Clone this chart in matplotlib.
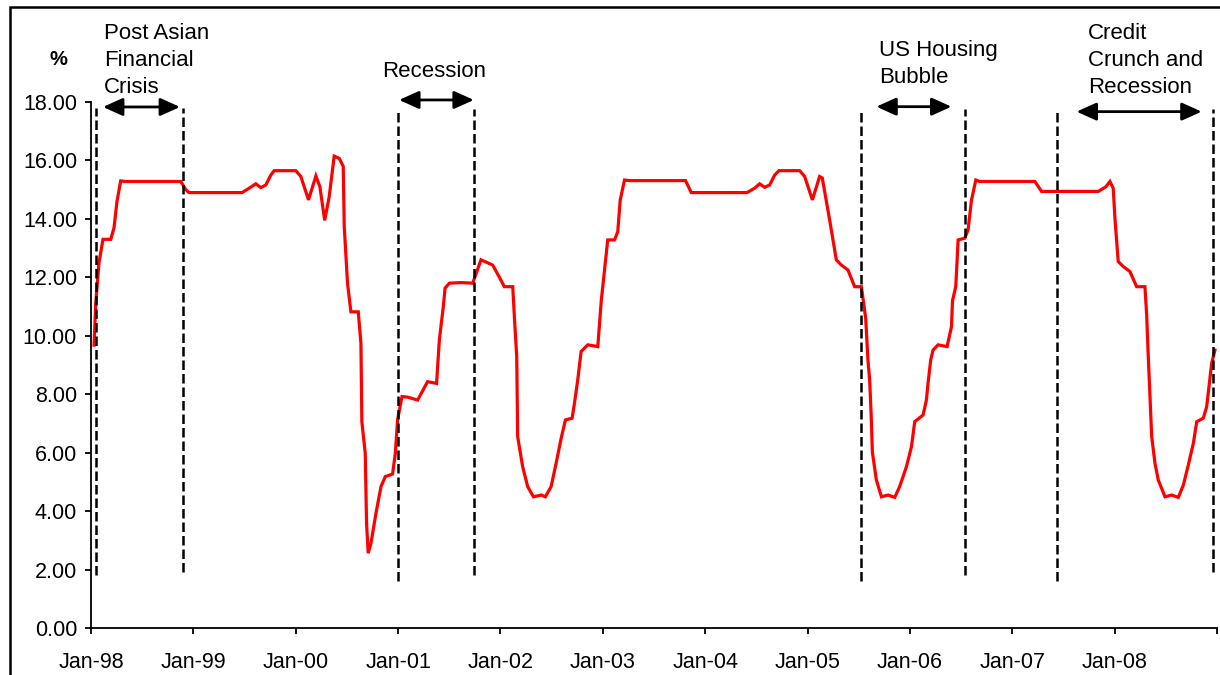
import matplotlib
matplotlib.use("Agg")
import matplotlib.pyplot as plt
from matplotlib.patches import Rectangle

plt.rcParams['font.family'] = ['Liberation Sans', 'DejaVu Sans']

# implied volatility, % (time as decimal year)
years = [1998.03, 1998.046, 1998.078, 1998.117, 1998.193, 1998.225, 1998.254, 1998.29, 1998.339,
         1998.877, 1998.926, 1998.958, 1999.476, 1999.545, 1999.61, 1999.659, 1999.708, 1999.757,
         1999.789, 2000.001, 2000.05, 2000.125, 2000.197, 2000.236, 2000.283, 2000.327, 2000.376,
         2000.425, 2000.464, 2000.474, 2000.506, 2000.539, 2000.611, 2000.637, 2000.646, 2000.679,
         2000.692, 2000.708, 2000.735, 2000.784, 2000.833, 2000.875, 2000.946, 2000.973, 2000.995,
         2001.038, 2001.093, 2001.191, 2001.288, 2001.376, 2001.403, 2001.442, 2001.459, 2001.501,
         2001.615, 2001.729, 2001.81, 2001.924, 2001.99, 2002.038, 2002.12, 2002.136, 2002.159,
         2002.168, 2002.217, 2002.266, 2002.322, 2002.397, 2002.439, 2002.495, 2002.544, 2002.593,
         2002.635, 2002.7, 2002.723, 2002.755, 2002.788, 2002.853, 2002.951, 2002.984, 2003.026,
         2003.048, 2003.114, 2003.146, 2003.17, 2003.212, 2003.26, 2003.808, 2003.864, 2004.408,
         2004.483, 2004.532, 2004.581, 2004.63, 2004.679, 2004.72, 2004.923, 2004.972, 2005.047,
         2005.118, 2005.144, 2005.216, 2005.281, 2005.33, 2005.395, 2005.46, 2005.526, 2005.568,
         2005.59, 2005.607, 2005.624, 2005.633, 2005.672, 2005.722, 2005.786, 2005.852, 2005.9,
         2005.966, 2006.015, 2006.047, 2006.129, 2006.161, 2006.177, 2006.203, 2006.226, 2006.275,
         2006.363, 2006.406, 2006.416, 2006.448, 2006.471, 2006.536, 2006.568, 2006.602, 2006.644,
         2006.683, 2007.221, 2007.286, 2007.84, 2007.915, 2007.954, 2007.986, 2008.003, 2008.035,
         2008.084, 2008.149, 2008.215, 2008.296, 2008.313, 2008.328, 2008.345, 2008.362, 2008.394,
         2008.426, 2008.492, 2008.557, 2008.622, 2008.671, 2008.72, 2008.769, 2008.802, 2008.866,
         2008.899, 2008.925, 2008.948, 2008.98]
vol = [9.68, 11.1, 12.5, 13.3, 13.3, 13.7, 14.6, 15.3, 15.28,
       15.28, 15.0, 14.9, 14.9, 15.05, 15.2, 15.07, 15.16, 15.5,
       15.65, 15.65, 15.45, 14.65, 15.47, 15.1, 13.95, 14.76, 16.15,
       16.07, 15.8, 13.73, 11.8, 10.82, 10.82, 9.74, 7.06, 5.98,
       3.58, 2.56, 2.9, 3.93, 4.84, 5.18, 5.27, 5.98, 7.12,
       7.92, 7.9, 7.8, 8.43, 8.37, 9.86, 11.0, 11.63, 11.8,
       11.82, 11.8, 12.6, 12.42, 12.0, 11.68, 11.68, 10.65, 9.28,
       6.55, 5.52, 4.84, 4.49, 4.55, 4.49, 4.84, 5.64, 6.49,
       7.12, 7.18, 7.69, 8.49, 9.46, 9.69, 9.63, 11.17, 12.54,
       13.28, 13.28, 13.56, 14.65, 15.33, 15.31, 15.31, 14.9, 14.9,
       15.05, 15.2, 15.08, 15.16, 15.5, 15.65, 15.65, 15.45, 14.65,
       15.45, 15.4, 13.96, 12.6, 12.42, 12.25, 11.68, 11.68, 10.6,
       9.17, 8.49, 7.06, 6.03, 5.07, 4.49, 4.55, 4.47, 4.84,
       5.52, 6.2, 7.06, 7.29, 7.8, 8.37, 9.17, 9.51, 9.69,
       9.63, 10.31, 11.2, 11.68, 13.28, 13.34, 13.62, 14.65, 15.33,
       15.28, 15.28, 14.94, 14.94, 15.1, 15.28, 15.05, 14.02, 12.54,
       12.37, 12.2, 11.68, 11.68, 10.71, 9.34, 7.92, 6.55, 5.64,
       5.07, 4.49, 4.55, 4.47, 4.89, 5.58, 6.32, 7.06, 7.18,
       7.57, 8.37, 9.06, 9.51]

tick_years = list(range(1998, 2010))
tick_labels = ['Jan-98', 'Jan-99', 'Jan-00', 'Jan-01', 'Jan-02', 'Jan-03',
               'Jan-04', 'Jan-05', 'Jan-06', 'Jan-07', 'Jan-08', '']

# episode boundaries (dashed) and their labels
bounds = [1998.049, 1998.90, 2001.0, 2001.745, 2005.52, 2006.536, 2007.436, 2008.961]
bound_bottom = [1.8, 1.9, 1.6, 1.8, 1.6, 1.8, 1.6, 1.9]
bound_top = [17.8, 17.8, 17.65, 17.75, 17.65, 17.75, 17.65, 17.75]
episodes = ['Post Asian\nFinancial\nCrisis', 'Recession', 'US Housing\nBubble',
            'Credit\nCrunch and\nRecession']
episode_x = [1998.13, 2000.845, 2005.698, 2007.742]
episode_y = [20.72, 19.42, 20.13, 20.7]
arrow_from = [1998.117, 2001.01, 2005.672, 2007.628]
arrow_to = [1998.87, 2001.74, 2006.406, 2008.85]
arrow_y = [17.83, 18.07, 17.84, 17.67]

fig = plt.figure(figsize=(12.2, 6.75), dpi=100)
ax = fig.add_axes([91 / 1220, 1 - 628 / 675, (1217 - 91) / 1220, (628 - 102) / 675])

ax.plot(years, vol, color='#ff0000', lw=2.3, solid_joinstyle='miter')

for x, b, t in zip(bounds, bound_bottom, bound_top):
    ax.plot([x, x], [b, t], color='black', lw=1.8, linestyle=(0, (3.8, 1.6)))

for txt, tx, ty in zip(episodes, episode_x, episode_y):
    ax.text(tx, ty, txt, fontsize=16, ha='left', va='top', linespacing=1.38)

for x0, x1, y in zip(arrow_from, arrow_to, arrow_y):
    ax.annotate('', xy=(x1, y), xytext=(x0, y),
                arrowprops=dict(arrowstyle='<|-|>,head_length=0.8,head_width=0.36',
                                color='black', lw=2, mutation_scale=15,
                                shrinkA=0, shrinkB=0),
                annotation_clip=False)

ax.text(1997.685, 19.45, '%', fontsize=14.5, fontweight='bold', ha='center', va='center')

ax.set_xlim(1998, 2009)
ax.set_ylim(0, 18)
ax.set_xticks(tick_years)
ax.set_xticklabels(tick_labels)
ax.set_yticks(range(0, 19, 2))
ax.set_yticklabels(['%.2f' % v for v in range(0, 19, 2)])
ax.tick_params(axis='both', labelsize=15.5, direction='out', length=4, width=1.3, color='black')
ax.tick_params(axis='y', pad=6)
ax.tick_params(axis='x', pad=13)
for side in ['top', 'right']:
    ax.spines[side].set_visible(False)
for side in ['left', 'bottom']:
    ax.spines[side].set_linewidth(1.3)

# outer frame (runs off the right and bottom edges)
fig.patches.append(Rectangle((10 / 1220, -0.2), 1.2, 1.2 - 7 / 675, transform=fig.transFigure,
                             fill=False, edgecolor='black', lw=1.8))

fig.savefig('out.png', dpi=100)
